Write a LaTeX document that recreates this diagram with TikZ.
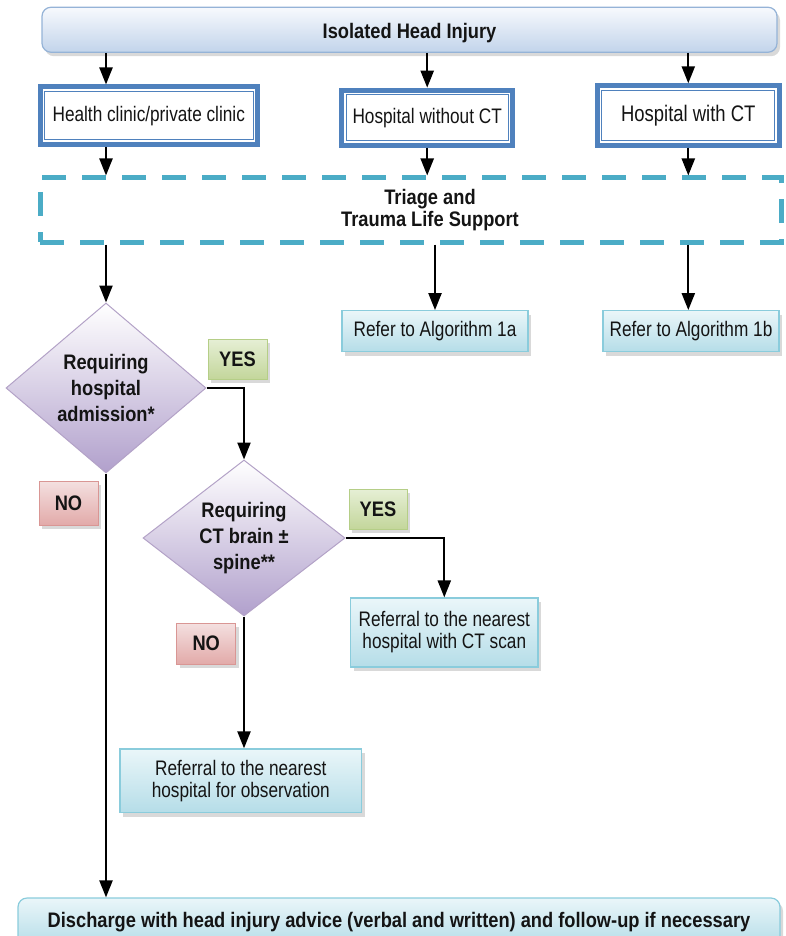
\documentclass[tikz,border=0pt]{standalone}
\usepackage{fontspec}
\setmainfont[FakeStretch=0.82,BoldFeatures={FakeStretch=0.87}]{Liberation Sans}
\usetikzlibrary{positioning,arrows.meta,shapes.geometric,shadows}

\definecolor{clinicblue}{HTML}{4F81BD}
\definecolor{headtop}{HTML}{F7F9FD}
\definecolor{headbot}{HTML}{C2D4EB}
\definecolor{headline}{HTML}{95B3D7}
\definecolor{triageteal}{HTML}{4BACC6}
\definecolor{refertop}{HTML}{EAF6F9}
\definecolor{referbot}{HTML}{B5DDE8}
\definecolor{referline}{HTML}{8ACCDC}
\definecolor{decbot}{HTML}{B1A0CC}
\definecolor{decline}{HTML}{B3A2C7}
\definecolor{yestop}{HTML}{E6EFD5}
\definecolor{yesbot}{HTML}{C3D69B}
\definecolor{yesline}{HTML}{B5CE87}
\definecolor{notop}{HTML}{F4E0E0}
\definecolor{nobot}{HTML}{E2AAA9}
\definecolor{noline}{HTML}{D99694}

\newcommand\flowfont{\fontsize{21}{22}\selectfont}

\tikzset{
	boxshadow/.style={drop shadow={shadow xshift=3pt,shadow yshift=-4pt,opacity=0.3}},
	headbox/.style={draw=headline,line width=1.2pt,rounded corners=9pt,top color=headtop,bottom color=headbot,boxshadow,font=\flowfont\bfseries},
	placebox/.style={draw=clinicblue,line width=5pt,fill=white,inner sep=0pt,
		path picture={\draw[clinicblue,line width=1pt]([shift={(4.5pt,-4.5pt)}]path picture bounding box.north west) rectangle ([shift={(-4.5pt,4.5pt)}]path picture bounding box.south east);}},
	triagebox/.style={draw=triageteal,line width=5pt,dash pattern=on 24pt off 16pt},
	referbox/.style={draw=referline,line width=1.2pt,top color=refertop,bottom color=referbot,boxshadow,align=center,inner sep=0pt},
	decision/.style={diamond,draw=decline,line width=1pt,top color=white,bottom color=decbot,inner sep=0pt,align=center,font=\fontsize{21}{26}\selectfont\bfseries},
	yeslabel/.style={draw=yesline,line width=1pt,top color=yestop,bottom color=yesbot,boxshadow,font=\flowfont\bfseries,inner sep=0pt},
	nolabel/.style={draw=noline,line width=1pt,top color=notop,bottom color=nobot,boxshadow,font=\flowfont\bfseries,inner sep=0pt},
	arr/.style={-{Triangle[length=17pt,width=13pt]},line width=2.2pt}
}

\begin{document}
\begin{tikzpicture}[x=1pt,y=-1pt,font=\flowfont,text=black!92]
\useasboundingbox (0,0) rectangle (785,936);
\clip (0,0) rectangle (785,936);
% top row
\node[headbox,text height=21pt,minimum width=735pt,minimum height=45pt] (head) at (409.5,29.75) {Isolated Head Injury};
\node[placebox,minimum width=217.5pt,minimum height=57.5pt] (clinic) at (148.75,115.75) {Health clinic/private clinic};
\node[placebox,minimum width=170.7pt,minimum height=55pt] (nonct) at (427.2,117.7) {Hospital without CT};
\node[placebox,font=\fontsize{22.5}{24}\selectfont,minimum width=181.7pt,minimum height=59.4pt] (withct) at (688.3,115.5) {Hospital with CT};
\node[triagebox,minimum width=741pt,minimum height=64pt] (triage) at (410.5,210) {};
\node[font=\flowfont\bfseries,align=center] (triagetext) at (430,210.5) {Triage and\\Trauma Life Support};
% decisions
\node[decision,aspect=1.18,minimum width=200pt,minimum height=170pt] (admit) at (106,388) {Requiring\\hospital\\admission*};
\node[decision,aspect=1.29,minimum width=202pt,minimum height=156pt] (ctscan) at (244,538) {Requiring\\CT brain ±\\spine**};
\node[yeslabel,minimum width=59pt,minimum height=40pt] (yesadmit) at (237.5,359) {YES};
\node[nolabel,minimum width=59pt,minimum height=44pt] (noadmit) at (68.5,503) {NO};
\node[yeslabel,minimum width=58pt,minimum height=40pt] (yesct) at (378,509) {YES};
\node[nolabel,minimum width=59pt,minimum height=41pt] (noct) at (206.2,643.5) {NO};
% outcomes
\node[referbox,minimum width=186pt,minimum height=41pt] (algoA) at (435,331.2) {Refer to Algorithm 1a};
\node[referbox,minimum width=176pt,minimum height=41pt] (algoB) at (691,331.2) {Refer to Algorithm 1b};
\node[referbox,minimum width=187.3pt,minimum height=69pt] (referct) at (444.3,632.5) {Referral to the nearest\\hospital with CT scan};
\node[referbox,minimum width=241.7pt,minimum height=63.7pt] (referobs) at (240.8,780.8) {Referral to the nearest\\hospital for observation};
\node[referbox,rounded corners=9pt,font=\flowfont\bfseries,minimum width=762pt,minimum height=48pt] (discharge) at (399,922) {Discharge with head injury advice (verbal and written) and follow-up if necessary};
% arrows
\draw[arr](head.south -| admit.north)--(clinic.north -| admit.north);
\draw[arr](head.south -| nonct.north)--(nonct.north);
\draw[arr](head.south -| withct.north)--(withct.north);
\draw[arr](clinic.south -| admit.north)--(triage.north -| admit.north);
\draw[arr](nonct.south)--(triage.north -| nonct.south);
\draw[arr](withct.south)--(triage.north -| withct.south);
\draw[arr](triage.south -| admit.north)--(admit.north);
\draw[arr](triage.south -| algoA.north)--(algoA.north);
\draw[arr](triage.south -| withct.south)--(algoB.north -| withct.south);
\draw[arr](admit.east)-|(ctscan.north);
\draw[arr](admit.south)--(discharge.north -| admit.south);
\draw[arr](ctscan.east)-|(referct.north);
\draw[arr](ctscan.south)--(referobs.north -| ctscan.south);
\end{tikzpicture}
\end{document}
